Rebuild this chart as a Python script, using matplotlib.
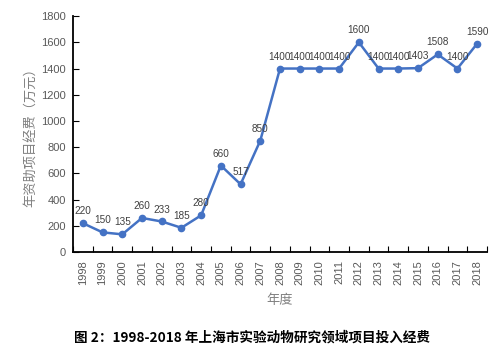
import matplotlib
matplotlib.use("Agg")
import matplotlib.pyplot as plt
import numpy as np

plt.rcParams['font.family'] = ['Noto Sans CJK SC', 'DejaVu Sans']

years = [str(y) for y in range(1998, 2019)]
values = [220, 150, 135, 260, 233, 185, 280, 660, 517, 850, 1400, 1400, 1400, 1400,
          1600, 1400, 1400, 1403, 1508, 1400, 1590]
labels = ["220", "150", "135", "260", "233", "185", "280", "660", "517", "850", "1400",
          "1400", "1400", "1400", "1600", "1400", "1400", "1403", "1508", "1400", "1590"]

fig = plt.figure(figsize=(5, 3.58), dpi=100)
ax = fig.add_axes([0.146, 0.296, 0.828, 0.659])

num_font = ['Liberation Sans', 'DejaVu Sans']
x = np.arange(len(years))
color = '#4472C4'
ax.plot(x, values, color=color, lw=1.8, marker='o', markersize=4.5, zorder=3)

for xi, v, lab in zip(x, values, labels):
    ax.annotate(lab, (xi, v), xytext=(0, 5), textcoords='offset points',
                ha='center', va='bottom', fontsize=7.2, color='#404040',
                family=num_font)

ax.set_xlim(-0.5, len(years) - 0.5)
ax.set_ylim(0, 1800)
ax.set_yticks(np.arange(0, 1801, 200))
ax.set_xticks(x)
ax.set_xticklabels(years, rotation=90, fontsize=8, color='#595959', family=num_font)
ax.tick_params(axis='x', which='major', length=0, pad=6)
ax.set_xticks(np.arange(-0.5, len(years), 1), minor=True)
ax.tick_params(axis='x', which='minor', direction='in', length=4, width=0.8)
ax.tick_params(axis='y', direction='in', length=4, width=0.8, labelsize=8,
               labelcolor='#595959', pad=5)
for t in ax.get_yticklabels():
    t.set_family(num_font)

for s in ['top', 'right']:
    ax.spines[s].set_visible(False)
for s in ['left', 'bottom']:
    ax.spines[s].set_linewidth(1.3)
    ax.spines[s].set_color('black')

ax.set_ylabel('年资助项目经费（万元）', fontsize=9.5, color='#808080', labelpad=3)
ax.set_xlabel('年度', fontsize=9.5, color='#808080', labelpad=6)

fig.text(0.505, 0.056, '图 2：1998-2018 年上海市实验动物研究领域项目投入经费',
         ha='center', va='center', fontsize=9.8, fontweight='bold', color='black')

fig.savefig('out.png', dpi=100)
